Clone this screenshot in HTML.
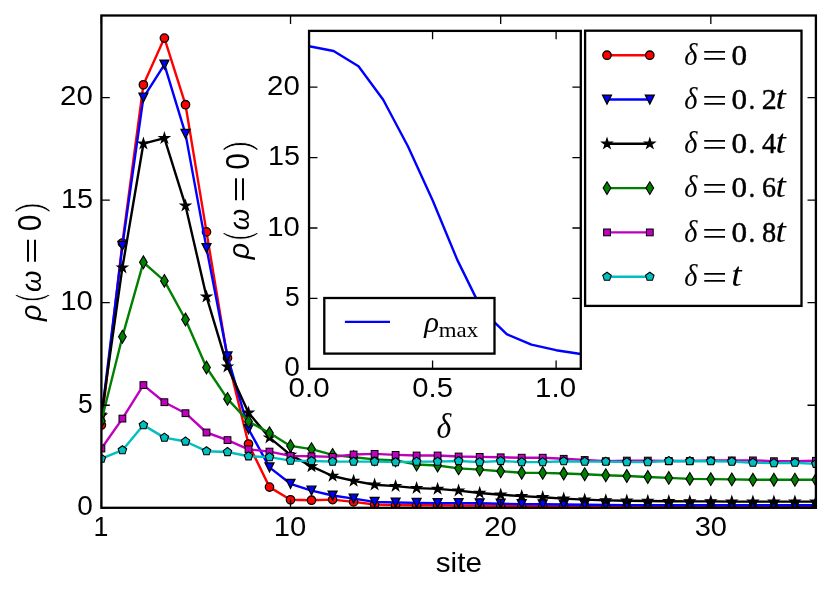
<!DOCTYPE html>
<html lang="en"><head><meta charset="utf-8"><title>rho(omega=0) vs site</title>
<style>
html,body{margin:0;padding:0;background:#ffffff;}
body{width:831px;height:592px;overflow:hidden;}
svg{display:block;will-change:transform;}
text{font-family:"Liberation Sans",sans-serif;fill:#000;}
.sa{font-family:"Liberation Sans",sans-serif;}
.ser{font-family:"Liberation Serif",serif;}
.it{font-style:italic;}
</style></head><body>
<svg width="831" height="592" viewBox="0 0 831 592" role="img" aria-label="rho(omega=0) versus site for several delta, with inset of rho_max versus delta">
<defs>
<clipPath id="cm"><rect x="101.40" y="15.50" width="714.50" height="492.30"/></clipPath>
<clipPath id="ci"><rect x="309.05" y="30.90" width="271.75" height="337.90"/></clipPath>
<g id="mo" fill="#ff0000" stroke="#000" stroke-width="1.30" stroke-linejoin="miter"><circle r="4.2"/></g>
<g id="mv" fill="#0000ff" stroke="#000" stroke-width="1.30" stroke-linejoin="miter"><path d="M-4.45 -4.45 L4.45 -4.45 L0.00 4.45 Z"/></g>
<g id="mst" fill="#000000" stroke="#000" stroke-width="1.20" stroke-linejoin="miter"><path d="M0.00 -5.25 L1.18 -1.62 L4.99 -1.62 L1.91 0.62 L3.09 4.25 L0.00 2.01 L-3.09 4.25 L-1.91 0.62 L-4.99 -1.62 L-1.18 -1.62 Z"/></g>
<g id="md" fill="#008000" stroke="#000" stroke-width="1.10" stroke-linejoin="miter"><path d="M0.00 -6.40 L3.85 0.00 L0.00 6.40 L-3.85 0.00 Z"/></g>
<g id="ms" fill="#bf00bf" stroke="#000" stroke-width="1.00" stroke-linejoin="miter"><rect x="-3.40" y="-3.40" width="6.80" height="6.80"/></g>
<g id="mp" fill="#00bfbf" stroke="#000" stroke-width="1.10" stroke-linejoin="miter"><path d="M0.00 -4.45 L4.23 -1.38 L2.62 3.60 L-2.62 3.60 L-4.23 -1.38 Z"/></g>
</defs>
<rect width="831" height="592" fill="#fff"/>
<g clip-path="url(#cm)">
<polyline fill="none" stroke="#ff0000" stroke-width="2.40" stroke-linejoin="round" points="101.4,425.1 122.4,243.0 143.4,84.8 164.4,38.1 185.5,104.7 206.5,231.9 227.5,357.9 248.5,444.0 269.5,487.1 290.5,499.8 311.5,500.2 332.6,499.6 353.6,501.9 374.6,504.5 395.6,505.1 416.6,505.3 437.6,505.3 458.6,505.5 479.7,505.5 500.7,505.7 521.7,505.7 542.7,506.0 563.7,506.0 584.7,506.2 605.8,506.2 626.8,506.4 647.8,506.4 668.8,506.6 689.8,506.6 710.8,506.8 731.8,506.8 752.9,506.8 773.9,507.0 794.9,507.0 815.9,507.0"/>
<g><use href="#mo" x="101.4" y="425.1"/><use href="#mo" x="122.4" y="243.0"/><use href="#mo" x="143.4" y="84.8"/><use href="#mo" x="164.4" y="38.1"/><use href="#mo" x="185.5" y="104.7"/><use href="#mo" x="206.5" y="231.9"/><use href="#mo" x="227.5" y="357.9"/><use href="#mo" x="248.5" y="444.0"/><use href="#mo" x="269.5" y="487.1"/><use href="#mo" x="290.5" y="499.8"/><use href="#mo" x="311.5" y="500.2"/><use href="#mo" x="332.6" y="499.6"/><use href="#mo" x="353.6" y="501.9"/><use href="#mo" x="374.6" y="504.5"/><use href="#mo" x="395.6" y="505.1"/><use href="#mo" x="416.6" y="505.3"/><use href="#mo" x="437.6" y="505.3"/><use href="#mo" x="458.6" y="505.5"/><use href="#mo" x="479.7" y="505.5"/><use href="#mo" x="500.7" y="505.7"/><use href="#mo" x="521.7" y="505.7"/><use href="#mo" x="542.7" y="506.0"/><use href="#mo" x="563.7" y="506.0"/><use href="#mo" x="584.7" y="506.2"/><use href="#mo" x="605.8" y="506.2"/><use href="#mo" x="626.8" y="506.4"/><use href="#mo" x="647.8" y="506.4"/><use href="#mo" x="668.8" y="506.6"/><use href="#mo" x="689.8" y="506.6"/><use href="#mo" x="710.8" y="506.8"/><use href="#mo" x="731.8" y="506.8"/><use href="#mo" x="752.9" y="506.8"/><use href="#mo" x="773.9" y="507.0"/><use href="#mo" x="794.9" y="507.0"/><use href="#mo" x="815.9" y="507.0"/></g>
<polyline fill="none" stroke="#0000ff" stroke-width="2.40" stroke-linejoin="round" points="101.4,417.5 122.4,245.9 143.4,97.6 164.4,64.7 185.5,133.9 206.5,248.1 227.5,356.4 248.5,429.0 269.5,467.4 290.5,483.8 311.5,490.6 332.6,495.5 353.6,498.6 374.6,501.9 395.6,502.5 416.6,502.9 437.6,503.1 458.6,503.1 479.7,503.3 500.7,503.7 521.7,504.1 542.7,504.3 563.7,504.5 584.7,504.7 605.8,504.9 626.8,505.1 647.8,505.1 668.8,505.3 689.8,505.3 710.8,505.3 731.8,505.3 752.9,505.3 773.9,505.3 794.9,505.3 815.9,505.3"/>
<g><use href="#mv" x="101.4" y="417.5"/><use href="#mv" x="122.4" y="245.9"/><use href="#mv" x="143.4" y="97.6"/><use href="#mv" x="164.4" y="64.7"/><use href="#mv" x="185.5" y="133.9"/><use href="#mv" x="206.5" y="248.1"/><use href="#mv" x="227.5" y="356.4"/><use href="#mv" x="248.5" y="429.0"/><use href="#mv" x="269.5" y="467.4"/><use href="#mv" x="290.5" y="483.8"/><use href="#mv" x="311.5" y="490.6"/><use href="#mv" x="332.6" y="495.5"/><use href="#mv" x="353.6" y="498.6"/><use href="#mv" x="374.6" y="501.9"/><use href="#mv" x="395.6" y="502.5"/><use href="#mv" x="416.6" y="502.9"/><use href="#mv" x="437.6" y="503.1"/><use href="#mv" x="458.6" y="503.1"/><use href="#mv" x="479.7" y="503.3"/><use href="#mv" x="500.7" y="503.7"/><use href="#mv" x="521.7" y="504.1"/><use href="#mv" x="542.7" y="504.3"/><use href="#mv" x="563.7" y="504.5"/><use href="#mv" x="584.7" y="504.7"/><use href="#mv" x="605.8" y="504.9"/><use href="#mv" x="626.8" y="505.1"/><use href="#mv" x="647.8" y="505.1"/><use href="#mv" x="668.8" y="505.3"/><use href="#mv" x="689.8" y="505.3"/><use href="#mv" x="710.8" y="505.3"/><use href="#mv" x="731.8" y="505.3"/><use href="#mv" x="752.9" y="505.3"/><use href="#mv" x="773.9" y="505.3"/><use href="#mv" x="794.9" y="505.3"/><use href="#mv" x="815.9" y="505.3"/></g>
<polyline fill="none" stroke="#000000" stroke-width="2.40" stroke-linejoin="round" points="101.4,415.7 122.4,267.6 143.4,143.7 164.4,138.2 185.5,205.7 206.5,296.7 227.5,366.7 248.5,412.8 269.5,437.6 290.5,454.9 311.5,466.4 332.6,476.0 353.6,480.9 374.6,484.8 395.6,486.1 416.6,488.1 437.6,488.9 458.6,490.6 479.7,493.0 500.7,494.7 521.7,496.1 542.7,497.3 563.7,498.6 584.7,499.6 605.8,500.4 626.8,500.8 647.8,501.0 668.8,501.2 689.8,501.4 710.8,501.4 731.8,501.6 752.9,501.6 773.9,501.6 794.9,501.6 815.9,501.6"/>
<g><use href="#mst" x="101.4" y="415.7"/><use href="#mst" x="122.4" y="267.6"/><use href="#mst" x="143.4" y="143.7"/><use href="#mst" x="164.4" y="138.2"/><use href="#mst" x="185.5" y="205.7"/><use href="#mst" x="206.5" y="296.7"/><use href="#mst" x="227.5" y="366.7"/><use href="#mst" x="248.5" y="412.8"/><use href="#mst" x="269.5" y="437.6"/><use href="#mst" x="290.5" y="454.9"/><use href="#mst" x="311.5" y="466.4"/><use href="#mst" x="332.6" y="476.0"/><use href="#mst" x="353.6" y="480.9"/><use href="#mst" x="374.6" y="484.8"/><use href="#mst" x="395.6" y="486.1"/><use href="#mst" x="416.6" y="488.1"/><use href="#mst" x="437.6" y="488.9"/><use href="#mst" x="458.6" y="490.6"/><use href="#mst" x="479.7" y="493.0"/><use href="#mst" x="500.7" y="494.7"/><use href="#mst" x="521.7" y="496.1"/><use href="#mst" x="542.7" y="497.3"/><use href="#mst" x="563.7" y="498.6"/><use href="#mst" x="584.7" y="499.6"/><use href="#mst" x="605.8" y="500.4"/><use href="#mst" x="626.8" y="500.8"/><use href="#mst" x="647.8" y="501.0"/><use href="#mst" x="668.8" y="501.2"/><use href="#mst" x="689.8" y="501.4"/><use href="#mst" x="710.8" y="501.4"/><use href="#mst" x="731.8" y="501.6"/><use href="#mst" x="752.9" y="501.6"/><use href="#mst" x="773.9" y="501.6"/><use href="#mst" x="794.9" y="501.6"/><use href="#mst" x="815.9" y="501.6"/></g>
<polyline fill="none" stroke="#008000" stroke-width="2.40" stroke-linejoin="round" points="101.4,421.0 122.4,336.7 143.4,262.3 164.4,280.9 185.5,319.5 206.5,367.5 227.5,398.9 248.5,421.4 269.5,433.1 290.5,445.9 311.5,449.1 332.6,454.9 353.6,457.3 374.6,459.4 395.6,460.4 416.6,464.5 437.6,465.5 458.6,468.4 479.7,469.6 500.7,471.3 521.7,472.7 542.7,472.9 563.7,473.5 584.7,474.2 605.8,475.2 626.8,476.0 647.8,477.0 668.8,477.9 689.8,478.9 710.8,479.1 731.8,479.4 752.9,479.8 773.9,479.7 794.9,479.7 815.9,479.7"/>
<g><use href="#md" x="101.4" y="421.0"/><use href="#md" x="122.4" y="336.7"/><use href="#md" x="143.4" y="262.3"/><use href="#md" x="164.4" y="280.9"/><use href="#md" x="185.5" y="319.5"/><use href="#md" x="206.5" y="367.5"/><use href="#md" x="227.5" y="398.9"/><use href="#md" x="248.5" y="421.4"/><use href="#md" x="269.5" y="433.1"/><use href="#md" x="290.5" y="445.9"/><use href="#md" x="311.5" y="449.1"/><use href="#md" x="332.6" y="454.9"/><use href="#md" x="353.6" y="457.3"/><use href="#md" x="374.6" y="459.4"/><use href="#md" x="395.6" y="460.4"/><use href="#md" x="416.6" y="464.5"/><use href="#md" x="437.6" y="465.5"/><use href="#md" x="458.6" y="468.4"/><use href="#md" x="479.7" y="469.6"/><use href="#md" x="500.7" y="471.3"/><use href="#md" x="521.7" y="472.7"/><use href="#md" x="542.7" y="472.9"/><use href="#md" x="563.7" y="473.5"/><use href="#md" x="584.7" y="474.2"/><use href="#md" x="605.8" y="475.2"/><use href="#md" x="626.8" y="476.0"/><use href="#md" x="647.8" y="477.0"/><use href="#md" x="668.8" y="477.9"/><use href="#md" x="689.8" y="478.9"/><use href="#md" x="710.8" y="479.1"/><use href="#md" x="731.8" y="479.4"/><use href="#md" x="752.9" y="479.8"/><use href="#md" x="773.9" y="479.7"/><use href="#md" x="794.9" y="479.7"/><use href="#md" x="815.9" y="479.7"/></g>
<polyline fill="none" stroke="#bf00bf" stroke-width="2.40" stroke-linejoin="round" points="101.4,448.5 122.4,418.6 143.4,385.1 164.4,402.2 185.5,413.2 206.5,432.5 227.5,440.1 248.5,449.3 269.5,451.6 290.5,455.9 311.5,456.3 332.6,456.9 353.6,454.5 374.6,453.9 395.6,454.9 416.6,455.5 437.6,455.5 458.6,456.5 479.7,456.9 500.7,457.3 521.7,457.7 542.7,457.7 563.7,458.8 584.7,460.0 605.8,461.2 626.8,460.6 647.8,460.6 668.8,461.0 689.8,461.0 710.8,460.4 731.8,460.4 752.9,460.4 773.9,461.2 794.9,461.2 815.9,460.8"/>
<g><use href="#ms" x="101.4" y="448.5"/><use href="#ms" x="122.4" y="418.6"/><use href="#ms" x="143.4" y="385.1"/><use href="#ms" x="164.4" y="402.2"/><use href="#ms" x="185.5" y="413.2"/><use href="#ms" x="206.5" y="432.5"/><use href="#ms" x="227.5" y="440.1"/><use href="#ms" x="248.5" y="449.3"/><use href="#ms" x="269.5" y="451.6"/><use href="#ms" x="290.5" y="455.9"/><use href="#ms" x="311.5" y="456.3"/><use href="#ms" x="332.6" y="456.9"/><use href="#ms" x="353.6" y="454.5"/><use href="#ms" x="374.6" y="453.9"/><use href="#ms" x="395.6" y="454.9"/><use href="#ms" x="416.6" y="455.5"/><use href="#ms" x="437.6" y="455.5"/><use href="#ms" x="458.6" y="456.5"/><use href="#ms" x="479.7" y="456.9"/><use href="#ms" x="500.7" y="457.3"/><use href="#ms" x="521.7" y="457.7"/><use href="#ms" x="542.7" y="457.7"/><use href="#ms" x="563.7" y="458.8"/><use href="#ms" x="584.7" y="460.0"/><use href="#ms" x="605.8" y="461.2"/><use href="#ms" x="626.8" y="460.6"/><use href="#ms" x="647.8" y="460.6"/><use href="#ms" x="668.8" y="461.0"/><use href="#ms" x="689.8" y="461.0"/><use href="#ms" x="710.8" y="460.4"/><use href="#ms" x="731.8" y="460.4"/><use href="#ms" x="752.9" y="460.4"/><use href="#ms" x="773.9" y="461.2"/><use href="#ms" x="794.9" y="461.2"/><use href="#ms" x="815.9" y="460.8"/></g>
<polyline fill="none" stroke="#00bfbf" stroke-width="2.40" stroke-linejoin="round" points="101.4,458.6 122.4,450.2 143.4,425.1 164.4,437.6 185.5,441.5 206.5,451.2 227.5,452.0 248.5,456.3 269.5,457.1 290.5,460.6 311.5,461.0 332.6,461.6 353.6,461.6 374.6,461.6 395.6,462.1 416.6,461.6 437.6,461.6 458.6,461.0 479.7,462.1 500.7,461.0 521.7,462.1 542.7,462.1 563.7,461.2 584.7,461.6 605.8,461.6 626.8,462.1 647.8,462.1 668.8,461.0 689.8,461.2 710.8,461.2 731.8,461.6 752.9,462.7 773.9,463.1 794.9,462.7 815.9,463.9"/>
<g><use href="#mp" x="101.4" y="458.6"/><use href="#mp" x="122.4" y="450.2"/><use href="#mp" x="143.4" y="425.1"/><use href="#mp" x="164.4" y="437.6"/><use href="#mp" x="185.5" y="441.5"/><use href="#mp" x="206.5" y="451.2"/><use href="#mp" x="227.5" y="452.0"/><use href="#mp" x="248.5" y="456.3"/><use href="#mp" x="269.5" y="457.1"/><use href="#mp" x="290.5" y="460.6"/><use href="#mp" x="311.5" y="461.0"/><use href="#mp" x="332.6" y="461.6"/><use href="#mp" x="353.6" y="461.6"/><use href="#mp" x="374.6" y="461.6"/><use href="#mp" x="395.6" y="462.1"/><use href="#mp" x="416.6" y="461.6"/><use href="#mp" x="437.6" y="461.6"/><use href="#mp" x="458.6" y="461.0"/><use href="#mp" x="479.7" y="462.1"/><use href="#mp" x="500.7" y="461.0"/><use href="#mp" x="521.7" y="462.1"/><use href="#mp" x="542.7" y="462.1"/><use href="#mp" x="563.7" y="461.2"/><use href="#mp" x="584.7" y="461.6"/><use href="#mp" x="605.8" y="461.6"/><use href="#mp" x="626.8" y="462.1"/><use href="#mp" x="647.8" y="462.1"/><use href="#mp" x="668.8" y="461.0"/><use href="#mp" x="689.8" y="461.2"/><use href="#mp" x="710.8" y="461.2"/><use href="#mp" x="731.8" y="461.6"/><use href="#mp" x="752.9" y="462.7"/><use href="#mp" x="773.9" y="463.1"/><use href="#mp" x="794.9" y="462.7"/><use href="#mp" x="815.9" y="463.9"/></g>
</g>
<path d="M101.40 507.80 v-8.40 M101.40 15.50 v8.40 M290.53 507.80 v-8.40 M290.53 15.50 v8.40 M500.68 507.80 v-8.40 M500.68 15.50 v8.40 M710.83 507.80 v-8.40 M710.83 15.50 v8.40 M101.40 507.80 h8.40 M815.90 507.80 h-8.40 M101.40 405.24 h8.40 M815.90 405.24 h-8.40 M101.40 302.68 h8.40 M815.90 302.68 h-8.40 M101.40 200.11 h8.40 M815.90 200.11 h-8.40 M101.40 97.55 h8.40 M815.90 97.55 h-8.40" stroke="#000" stroke-width="1.30" fill="none"/>
<rect x="101.40" y="15.50" width="714.50" height="492.30" fill="none" stroke="#000" stroke-width="2.30"/>
<text class="sa" transform="translate(93.59 536.00) scale(0.943 1)" font-size="28.4">1</text>
<text class="sa" transform="translate(273.73 536.00) scale(1.030 1)" font-size="28.4">10</text>
<text class="sa" transform="translate(484.13 536.00) scale(1.037 1)" font-size="28.4">20</text>
<text class="sa" transform="translate(694.69 536.00) scale(1.022 1)" font-size="28.4">30</text>
<text class="sa" transform="translate(77.20 515.30) scale(0.987 1)" font-size="28.4">0</text>
<text class="sa" transform="translate(78.09 412.74) scale(0.932 1)" font-size="28.4">5</text>
<text class="sa" transform="translate(60.31 310.18) scale(1.030 1)" font-size="28.4">10</text>
<text class="sa" transform="translate(60.91 207.61) scale(1.013 1)" font-size="28.4">15</text>
<text class="sa" transform="translate(60.09 105.05) scale(1.037 1)" font-size="28.4">20</text>
<text class="sa" transform="translate(435.77 571.80) scale(1.074 1)" font-size="27.6">site</text>
<g transform="translate(41.30 322.00) rotate(-90)"><text class="sa it" transform="translate(1.10 0.00) scale(0.993 1)" font-size="29.0">ρ</text><text class="sa" transform="translate(19.42 0.88) scale(0.759 1)" font-size="37.8" stroke="#fff" stroke-width="1.1">(</text><text class="sa it" transform="translate(30.10 0.00) scale(0.971 1)" font-size="28.4">ω</text><text class="sa" transform="translate(57.98 -0.06) scale(1.685 1)" font-size="27.0">=</text><text class="sa" transform="translate(90.63 0.10) scale(0.908 1)" font-size="32.9">0</text><text class="sa" transform="translate(108.90 0.88) scale(0.888 1)" font-size="37.8" stroke="#fff" stroke-width="1.1">)</text></g>
<rect x="309.05" y="30.90" width="271.75" height="337.90" fill="#fff"/>
<g clip-path="url(#ci)"><polyline fill="none" stroke="#0000ff" stroke-width="2.40" stroke-linejoin="round" points="309.1,46.3 333.6,51.0 358.5,66.2 383.2,99.8 407.9,146.2 432.6,200.2 457.3,259.9 482.0,310.1 506.7,334.2 531.4,344.6 556.1,350.2 580.8,354.0"/></g>
<path d="M309.05 368.80 v-8.40 M309.05 30.90 v8.40 M432.57 368.80 v-8.40 M432.57 30.90 v8.40 M556.10 368.80 v-8.40 M556.10 30.90 v8.40 M309.05 368.80 h8.40 M580.80 368.80 h-8.40 M309.05 298.40 h8.40 M580.80 298.40 h-8.40 M309.05 228.01 h8.40 M580.80 228.01 h-8.40 M309.05 157.61 h8.40 M580.80 157.61 h-8.40 M309.05 87.22 h8.40 M580.80 87.22 h-8.40" stroke="#000" stroke-width="1.30" fill="none"/>
<rect x="324.3" y="298.0" width="170.2" height="55.6" fill="#fff" stroke="#000" stroke-width="2.30"/>
<path d="M344.9 321.9 H390" stroke="#0000ff" stroke-width="2.40"/>
<text class="ser it" transform="translate(424.18 331.70) scale(1.045 1)" font-size="29.4">ρ</text>
<text class="ser" transform="translate(438.72 337.00) scale(1.059 1)" font-size="21.6">max</text>
<rect x="309.05" y="30.90" width="271.75" height="337.90" fill="none" stroke="#000" stroke-width="2.30"/>
<text class="sa" transform="translate(288.50 397.30) scale(1.041 1)" font-size="28.4">0.0</text>
<text class="sa" transform="translate(412.32 397.30) scale(1.028 1)" font-size="28.4">0.5</text>
<text class="sa" transform="translate(535.04 397.30) scale(1.039 1)" font-size="28.4">1.0</text>
<text class="sa" transform="translate(284.20 376.30) scale(0.987 1)" font-size="28.4">0</text>
<text class="sa" transform="translate(285.09 305.90) scale(0.932 1)" font-size="28.4">5</text>
<text class="sa" transform="translate(267.31 235.51) scale(1.030 1)" font-size="28.4">10</text>
<text class="sa" transform="translate(267.91 165.11) scale(1.013 1)" font-size="28.4">15</text>
<text class="sa" transform="translate(267.09 94.72) scale(1.037 1)" font-size="28.4">20</text>
<g transform="translate(248.80 260.40) rotate(-90)"><text class="sa it" transform="translate(1.10 0.00) scale(0.993 1)" font-size="29.0">ρ</text><text class="sa" transform="translate(19.42 0.88) scale(0.759 1)" font-size="37.8" stroke="#fff" stroke-width="1.1">(</text><text class="sa it" transform="translate(30.10 0.00) scale(0.971 1)" font-size="28.4">ω</text><text class="sa" transform="translate(57.98 -0.06) scale(1.685 1)" font-size="27.0">=</text><text class="sa" transform="translate(90.63 0.10) scale(0.908 1)" font-size="32.9">0</text><text class="sa" transform="translate(108.90 0.88) scale(0.888 1)" font-size="37.8" stroke="#fff" stroke-width="1.1">)</text></g>
<text class="ser it" transform="translate(436.57 438.00) scale(0.892 1)" font-size="35.5">δ</text>
<rect x="585.10" y="30.70" width="216.40" height="275.20" fill="#fff" stroke="#000" stroke-width="2.30"/>
<path d="M607 55.2 H649.8" stroke="#ff0000" stroke-width="2.40"/>
<use href="#mo" x="607" y="55.2"/><use href="#mo" x="649.8" y="55.2"/>
<text class="ser it" transform="translate(684.27 64.50) scale(0.916 1)" font-size="30.9">δ</text>
<text class="ser" transform="translate(701.97 67.41) scale(1.355 1)" font-size="33.0">=</text>
<text class="ser" transform="translate(731.61 64.50) scale(1.057 1)" font-size="29.5" stroke="#000" stroke-width="0.45">0</text>
<path d="M607 99.5 H649.8" stroke="#0000ff" stroke-width="2.40"/>
<use href="#mv" x="607" y="99.5"/><use href="#mv" x="649.8" y="99.5"/>
<text class="ser it" transform="translate(684.27 108.80) scale(0.916 1)" font-size="30.9">δ</text>
<text class="ser" transform="translate(701.97 111.71) scale(1.355 1)" font-size="33.0">=</text>
<text class="ser" transform="translate(731.61 108.80) scale(1.057 1)" font-size="29.5" stroke="#000" stroke-width="0.45">0</text>
<text class="ser" transform="translate(748.73 108.80) scale(0.907 1)" font-size="28.0" stroke="#000" stroke-width="0.45">.</text>
<text class="ser" transform="translate(761.78 108.80) scale(1.022 1)" font-size="29.3" stroke="#000" stroke-width="0.45">2</text>
<text class="ser it" transform="translate(775.46 108.80) scale(1.145 1)" font-size="32.7">t</text>
<path d="M607 143.8 H649.8" stroke="#000000" stroke-width="2.40"/>
<use href="#mst" x="607" y="143.8"/><use href="#mst" x="649.8" y="143.8"/>
<text class="ser it" transform="translate(684.27 153.10) scale(0.916 1)" font-size="30.9">δ</text>
<text class="ser" transform="translate(701.97 156.01) scale(1.355 1)" font-size="33.0">=</text>
<text class="ser" transform="translate(731.61 153.10) scale(1.057 1)" font-size="29.5" stroke="#000" stroke-width="0.45">0</text>
<text class="ser" transform="translate(748.73 153.10) scale(0.907 1)" font-size="28.0" stroke="#000" stroke-width="0.45">.</text>
<text class="ser" transform="translate(761.95 153.10) scale(0.963 1)" font-size="29.5" stroke="#000" stroke-width="0.45">4</text>
<text class="ser it" transform="translate(775.46 153.10) scale(1.145 1)" font-size="32.7">t</text>
<path d="M607 188.1 H649.8" stroke="#008000" stroke-width="2.40"/>
<use href="#md" x="607" y="188.1"/><use href="#md" x="649.8" y="188.1"/>
<text class="ser it" transform="translate(684.27 197.40) scale(0.916 1)" font-size="30.9">δ</text>
<text class="ser" transform="translate(701.97 200.31) scale(1.355 1)" font-size="33.0">=</text>
<text class="ser" transform="translate(731.61 197.40) scale(1.057 1)" font-size="29.5" stroke="#000" stroke-width="0.45">0</text>
<text class="ser" transform="translate(748.73 197.40) scale(0.907 1)" font-size="28.0" stroke="#000" stroke-width="0.45">.</text>
<text class="ser" transform="translate(761.89 197.40) scale(0.959 1)" font-size="29.3" stroke="#000" stroke-width="0.45">6</text>
<text class="ser it" transform="translate(775.46 197.40) scale(1.145 1)" font-size="32.7">t</text>
<path d="M607 232.4 H649.8" stroke="#bf00bf" stroke-width="2.40"/>
<use href="#ms" x="607" y="232.4"/><use href="#ms" x="649.8" y="232.4"/>
<text class="ser it" transform="translate(684.27 241.70) scale(0.916 1)" font-size="30.9">δ</text>
<text class="ser" transform="translate(701.97 244.61) scale(1.355 1)" font-size="33.0">=</text>
<text class="ser" transform="translate(731.61 241.70) scale(1.057 1)" font-size="29.5" stroke="#000" stroke-width="0.45">0</text>
<text class="ser" transform="translate(748.73 241.70) scale(0.907 1)" font-size="28.0" stroke="#000" stroke-width="0.45">.</text>
<text class="ser" transform="translate(762.02 241.70) scale(0.971 1)" font-size="29.2" stroke="#000" stroke-width="0.45">8</text>
<text class="ser it" transform="translate(775.46 241.70) scale(1.145 1)" font-size="32.7">t</text>
<path d="M607 276.7 H649.8" stroke="#00bfbf" stroke-width="2.40"/>
<use href="#mp" x="607" y="276.7"/><use href="#mp" x="649.8" y="276.7"/>
<text class="ser it" transform="translate(684.27 286.00) scale(0.916 1)" font-size="30.9">δ</text>
<text class="ser" transform="translate(701.97 288.91) scale(1.355 1)" font-size="33.0">=</text>
<text class="ser it" transform="translate(731.16 286.00) scale(1.145 1)" font-size="32.7">t</text>
</svg>
</body></html>
